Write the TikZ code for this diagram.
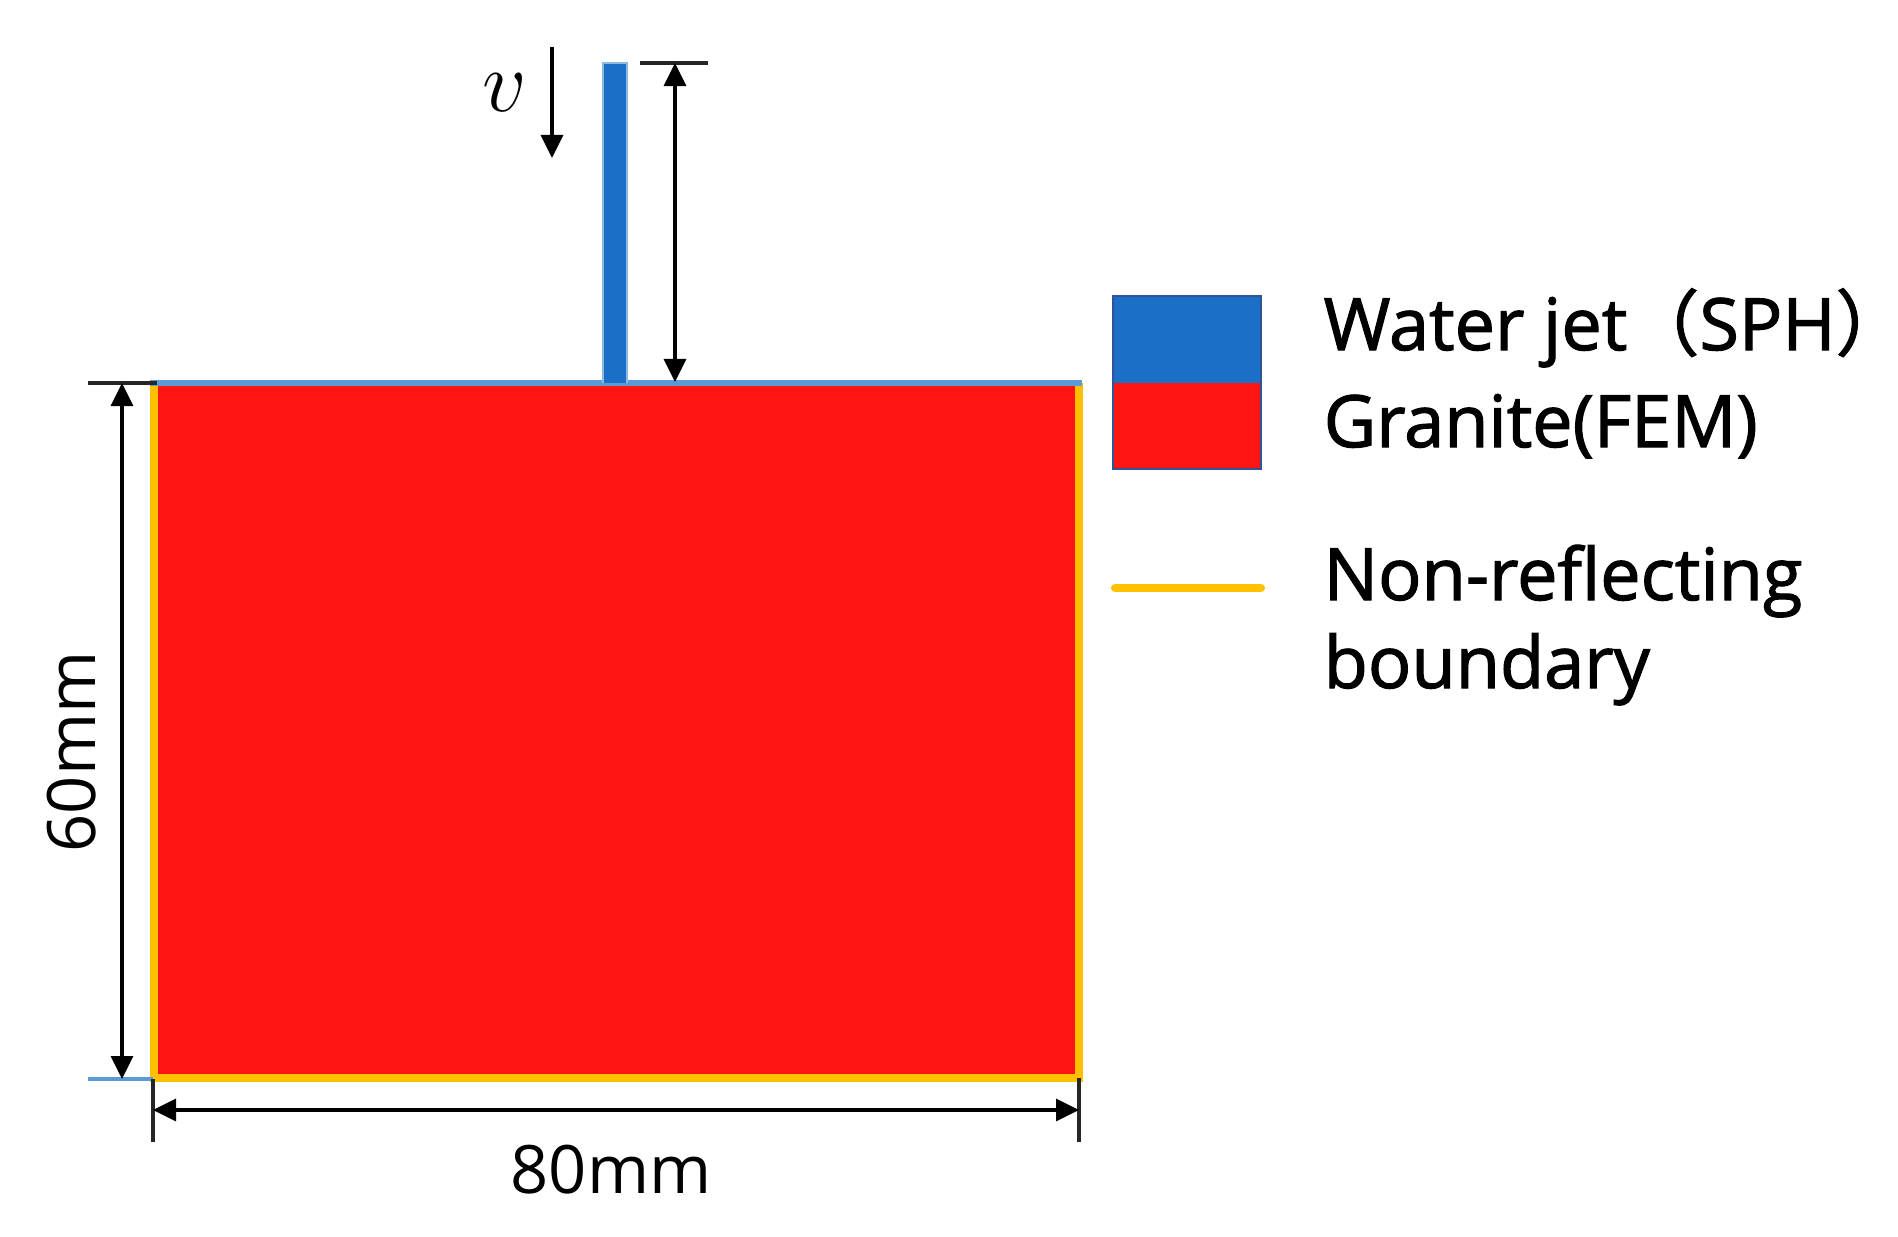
\documentclass[tikz,border=0pt]{standalone}
\usepackage{fontspec}
\setmainfont{Open Sans}
\newfontfamily\legfont[FakeBold=1.6]{Open Sans}
\newfontfamily\cjkfont[FakeBold=1.6]{Noto Sans CJK SC}
\usetikzlibrary{arrows.meta}
\definecolor{granite}{HTML}{FF1414}
\definecolor{jetblue}{HTML}{1B6FC6}
\definecolor{nrb}{HTML}{FFC000}
\definecolor{edgeblue}{HTML}{5B9BD5}
\definecolor{legframe}{HTML}{2F5597}
\tikzset{
  tip/.tip={Triangle[length=0.23cm,width=0.22cm]},
  dimline/.style={{tip}-{tip}, line width=0.9pt, black},
  tickline/.style={line width=0.9pt, black!85},
  lbl/.style={font=\legfont\fontsize{20.5}{24}\selectfont, inner sep=0pt, anchor=base west},
  dimlbl/.style={font=\fontsize{19}{22}\selectfont, inner sep=0pt},
}
\begin{document}
\begin{tikzpicture}[x=0.01cm,y=-0.01cm]
\useasboundingbox (0,0) rectangle (1898,1236);
% granite block
\fill[granite] (150,383) rectangle (1082,1082);
\draw[nrb, line width=0.08cm, miter limit=4] (153.5,383) -- (153.5,1078) -- (1078.5,1078) -- (1078.5,383);
\draw[edgeblue, line width=1.5pt] (150,383) -- (1082,383);
% water jet
\fill[jetblue] (603,63) rectangle (627,383);
\draw[edgeblue!70, line width=0.6pt] (603,383) -- (603,63) -- (627,63) -- (627,383);
% coordinates for dimensions
\coordinate (jtT) at (675,63);
\coordinate (jtB) at (675,382);
\coordinate (jtL) at (640,63);
\coordinate (jtR) at (708,63);
\coordinate (hT) at (122,383);
\coordinate (hB) at (122,1079);
\coordinate (htL) at (88,383);
\coordinate (htR) at (157,383);
\coordinate (hbL) at (88,1079);
\coordinate (hbR) at (153,1079);
\coordinate (wL) at (153,1110);
\coordinate (wR) at (1079,1110);
\coordinate (wlT) at (153,1079);
\coordinate (wlB) at (153,1142);
\coordinate (wrT) at (1079,1078);
\coordinate (wrB) at (1079,1142);
\coordinate (vT) at (552,47);
\coordinate (vB) at (552,158);
% jet length dimension
\draw[tickline] (jtL) -- (jtR);
\draw[dimline] (jtT) -- (jtB);
% velocity
\draw[line width=0.9pt, -{tip}] (vT) -- (vB);
\node[inner sep=0pt, font=\fontsize{23}{25}\selectfont] (v) at (505,93) {$v$};
% height dimension
\draw[tickline] (htL) -- (htR);
\draw[edgeblue, line width=1.2pt] (hbL) -- (hbR);
\draw[dimline] (hT) -- (hB);
\node[dimlbl, rotate=90] (h60) at (72,752) {60mm};
% width dimension
\draw[tickline] (wlT) -- (wlB);
\draw[tickline] (wrT) -- (wrB);
\draw[dimline] (wL) -- (wR);
\node[dimlbl] (w80) at (611,1170) {80mm};
% legend
\fill[jetblue] (1113,296) rectangle (1261,383);
\fill[granite] (1113,383) rectangle (1261,469);
\draw[legframe, line width=0.6pt] (1113,296) rectangle (1261,469);
\coordinate (nL) at (1115,588);
\coordinate (nR) at (1261,588);
\draw[nrb, line width=0.08cm, line cap=round] (nL) -- (nR);
\node[lbl] (l1) at (1323,350) {Water jet{\cjkfont （}SPH{\cjkfont ）}\hspace{-0.55em}};
\node[lbl] (l2) at (1323,447) {Granite(FEM)};
\node[lbl] (l3) at (1323,600) {Non-reflecting};
\node[lbl] (l4) at (1323,688) {boundary};
\end{tikzpicture}
\end{document}
